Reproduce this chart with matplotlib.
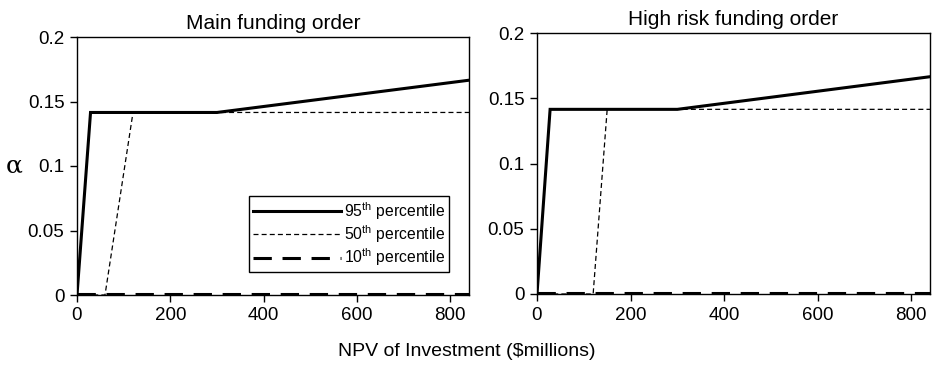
import matplotlib
matplotlib.use('Agg')
import matplotlib.pyplot as plt

plt.rcParams['font.family'] = ['Liberation Sans', 'DejaVu Sans']
plt.rcParams['mathtext.fontset'] = 'custom'
plt.rcParams['mathtext.rm'] = 'Liberation Sans'

# Data (NPV in $millions, alpha)
main_p95_x = [0, 29, 300, 840]
main_p95_y = [0, 0.1415, 0.1415, 0.1665]
main_p50_x = [0, 60, 120, 840]
main_p50_y = [0, 0, 0.1415, 0.1415]
main_p10_x = [0, 840]
main_p10_y = [0.0008, 0.0008]

high_p95_x = [0, 28, 300, 840]
high_p95_y = [0, 0.1415, 0.1415, 0.1665]
high_p50_x = [0, 120, 150, 840]
high_p50_y = [0, 0, 0.1415, 0.1415]
high_p10_x = [0, 840]
high_p10_y = [0.0008, 0.0008]

titles = ['Main funding order', 'High risk funding order']
labels = ['95$^{\\rm th}$ percentile', '50$^{\\rm th}$ percentile', '10$^{\\rm th}$ percentile']
xticks = [0, 200, 400, 600, 800]
yticks = [0, 0.05, 0.1, 0.15, 0.2]
ytick_labels = ['0', '0.05', '0.1', '0.15', '0.2']

fig = plt.figure(figsize=(9.34, 3.8), dpi=100)
ax1 = fig.add_axes([77 / 934, 85 / 380, 392 / 934, 258 / 380])
ax2 = fig.add_axes([537 / 934, 86 / 380, 393 / 934, 261 / 380])

series = [
    (ax1, main_p95_x, main_p95_y, main_p50_x, main_p50_y, main_p10_x, main_p10_y),
    (ax2, high_p95_x, high_p95_y, high_p50_x, high_p50_y, high_p10_x, high_p10_y),
]

for i, (ax, x95, y95, x50, y50, x10, y10) in enumerate(series):
    ax.plot(x95, y95, color='black', lw=2.2, solid_joinstyle='miter', label=labels[0])
    ax.plot(x50, y50, color='black', lw=0.9, dashes=(4, 2.5), label=labels[1])
    ax.plot(x10, y10, color='black', lw=2.2, dashes=(6, 3.5), label=labels[2])
    ax.set_xlim(0, 840)
    ax.set_ylim(0, 0.2)
    ax.set_xticks(xticks)
    ax.set_yticks(yticks)
    ax.set_yticklabels(ytick_labels)
    ax.tick_params(direction='out', length=5, width=1, labelsize=13.5, pad=4,
                   top=False, right=False)
    for s in ax.spines.values():
        s.set_linewidth(1.0)
    ax.set_title(titles[i], fontsize=15, pad=6)

ax1.set_ylabel('α', fontsize=18, rotation=0, labelpad=10, va='center',
               family=['DejaVu Serif'])
leg = ax1.legend(loc='lower right', bbox_to_anchor=(0.949, 0.089), borderaxespad=0,
                 fontsize=11.3, handlelength=5.6, handletextpad=0.2, borderpad=0.25,
                 labelspacing=0.1, fancybox=False, framealpha=1,
                 edgecolor='black')
leg.get_frame().set_linewidth(1.0)

fig.text(467 / 934, 28 / 380, 'NPV of Investment (\\$millions)', ha='center',
         va='center', fontsize=14)

fig.savefig('out.png', dpi=100)
